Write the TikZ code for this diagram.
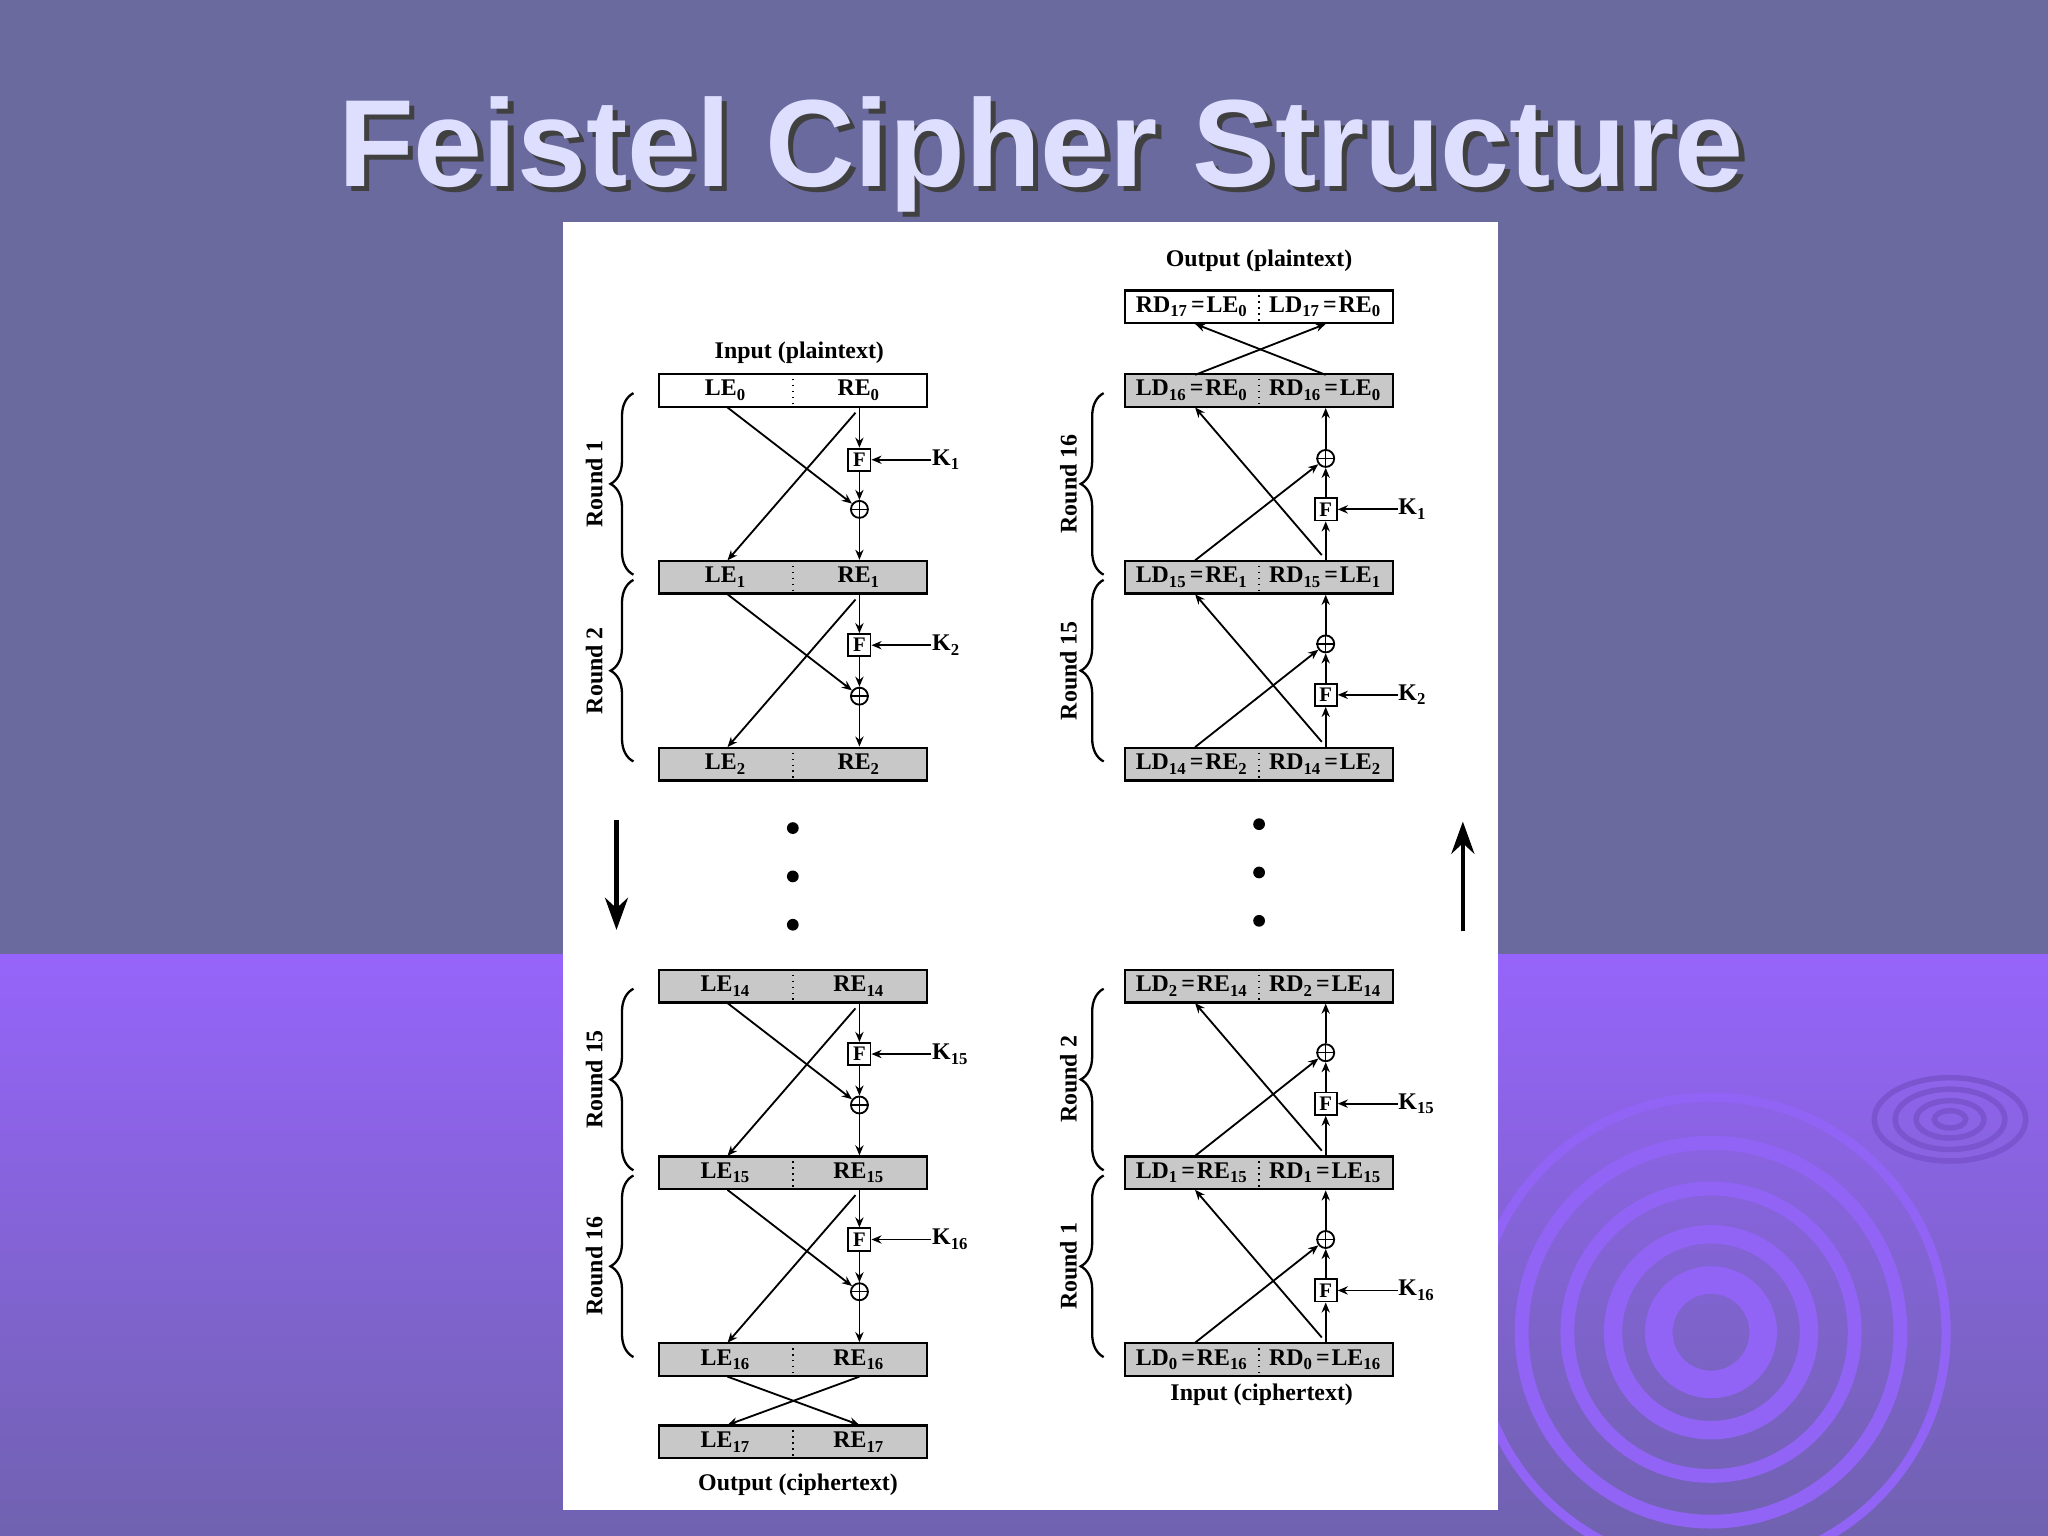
\documentclass[tikz,border=0pt]{standalone}
\usepackage{fontspec}
\setmainfont{Liberation Serif}
\newfontfamily\titlefont{Liberation Sans}
\usetikzlibrary{decorations.pathreplacing,arrows.meta}
\definecolor{topbg}{RGB}{106,106,158}
\definecolor{botA}{RGB}{150,100,250}
\definecolor{botB}{RGB}{112,98,176}
\definecolor{ring}{RGB}{145,100,245}
\definecolor{ttl}{RGB}{222,222,255}
\definecolor{gbox}{RGB}{200,200,200}
\tikzset{
 bx/.style={draw,line width=0.5pt,minimum width=2.05cm,minimum height=0.25cm,inner sep=0pt},
 txt/.style={font=\fontsize{5.2}{6}\selectfont\bfseries,inner sep=0pt},
 lbl/.style={font=\fontsize{5.2}{6}\selectfont\bfseries,inner sep=0pt},
 fb/.style={draw,fill=white,minimum size=0.17cm,inner sep=0pt,line width=0.4pt,font=\fontsize{4.5}{5}\selectfont\bfseries},
 xr/.style={draw,fill=white,circle,minimum size=0.13cm,inner sep=0pt,line width=0.4pt},
 arr/.style={-{Stealth[length=2.2pt,width=1.8pt]},line width=0.4pt},
 brc/.style={decorate,decoration={brace,amplitude=5pt},line width=0.5pt},
}
\newcommand\eq{\kern0.4pt=\kern0.4pt}
\newcommand\mybox[6]{%
 \node[bx,fill=#4] (#1) at (#2,#3) {};
 \draw[densely dotted,line width=0.3pt] (#1.north) -- (#1.south);
 \node[txt] (#1l) at ([xshift=-0.51cm]#1.center) {#5};
 \node[txt] (#1r) at ([xshift=0.51cm]#1.center) {#6};}
\newcommand\xorplus[1]{\draw[line width=0.3pt] (#1.north)--(#1.south) (#1.west)--(#1.east);}
\newcommand\lround[9]{%
 \node[fb] (#1F) at (658,#4) {F};
 \node[xr] (#1X) at (658,#5) {}; \xorplus{#1X}
 \node[lbl,anchor=west] (#1K) at (713,#4) {#6};
 \draw[arr] (#1F |- #2.south) -- (#1F);
 \draw[arr] (#1F) -- (#1X);
 \draw[arr] (#1X) -- (#1X |- #3.north);
 \coordinate (#1a) at (557,#8+13); \coordinate (#1b) at (655,#8+17); \coordinate (#1c) at (557,#9-13);
 \draw[arr] (#1a) -- (#1X);
 \draw[arr] (#1b) -- (#1c);
 \draw[arr] (#1K.west) -- (#1F.east);
 \coordinate (#1u) at (485,#8+2); \coordinate (#1d) at (485,#9-2);
 \draw[brc] (#1d) -- (#1u);
 \node[lbl,rotate=90] (#1R) at (455,{(#8+#9)/2}) {#7};}
\newcommand\rround[9]{%
 \node[fb] (#1F) at (1015,#4) {F};
 \node[xr] (#1X) at (1015,#5) {}; \xorplus{#1X}
 \node[lbl,anchor=west] (#1K) at (1070,#4) {#6};
 \draw[arr] (#1F |- #3.north) -- (#1F);
 \draw[arr] (#1F) -- (#1X);
 \draw[arr] (#1X) -- (#1X |- #2.south);
 \coordinate (#1a) at (915,#9-13); \coordinate (#1b) at (1012,#9-17); \coordinate (#1c) at (915,#8+13);
 \draw[arr] (#1a) -- (#1X);
 \draw[arr] (#1b) -- (#1c);
 \draw[arr] (#1K.west) -- (#1F.east);
 \coordinate (#1u) at (845,#8+2); \coordinate (#1d) at (845,#9-2);
 \draw[brc] (#1d) -- (#1u);
 \node[lbl,rotate=90] (#1R) at (818,{(#8+#9)/2}) {#7};}
\begin{document}
\begin{tikzpicture}[x=0.01cm,y=-0.01cm]
\useasboundingbox (0,0) rectangle (1568,1176);
\fill[topbg] (0,0) rectangle (1568,731);
\shade[top color=botA,bottom color=botB] (0,731) rectangle (1568,1176);
\begin{scope}
\clip (0,731) rectangle (1568,1176);
\foreach \r/\w in {40/6,75/4,110/3,145/3,180/2}{\draw[ring,line width=\w] (1310,1020) circle (\r);}
\foreach \r in {12,26,42,58}{\draw[ring!85!black,line width=1.2] (1493,857) circle ({\r} and {\r*0.55});}
\end{scope}
\node[font=\titlefont\fontsize{27}{27}\selectfont\bfseries,text=black!75] (tsh) at (801,122) {Feistel Cipher Structure};
\node[font=\titlefont\fontsize{27}{27}\selectfont\bfseries,text=ttl] (title) at (797,118) {Feistel Cipher Structure};
\fill[white] (431,170) rectangle (1147,1156);
\node[lbl] (inp) at (612,270) {Input (plaintext)};
\mybox{L0}{607}{299}{white}{LE\textsubscript{0}}{RE\textsubscript{0}}
\mybox{L1}{607}{442}{gbox}{LE\textsubscript{1}}{RE\textsubscript{1}}
\mybox{L2}{607}{585}{gbox}{LE\textsubscript{2}}{RE\textsubscript{2}}
\mybox{L14}{607}{755}{gbox}{LE\textsubscript{14}}{RE\textsubscript{14}}
\mybox{L15}{607}{898}{gbox}{LE\textsubscript{15}}{RE\textsubscript{15}}
\mybox{L16}{607}{1041}{gbox}{LE\textsubscript{16}}{RE\textsubscript{16}}
\mybox{L17}{607}{1104}{gbox}{LE\textsubscript{17}}{RE\textsubscript{17}}
\node[lbl] (outc) at (611,1137) {Output (ciphertext)};
\lround{la}{L0}{L1}{352}{390}{K\textsubscript{1}}{Round 1}{299}{442}
\lround{lb}{L1}{L2}{494}{533}{K\textsubscript{2}}{Round 2}{442}{585}
\lround{lc}{L14}{L15}{807}{846}{K\textsubscript{15}}{Round 15}{755}{898}
\lround{ld}{L15}{L16}{949}{989}{K\textsubscript{16}}{Round 16}{898}{1041}
\coordinate (s1) at (557,1054); \coordinate (s2) at (658,1054);
\coordinate (s3) at (557,1091); \coordinate (s4) at (658,1091);
\draw[arr] (s1) -- (s4); \draw[arr] (s2) -- (s3);
\node[lbl] (outp) at (964,200) {Output (plaintext)};
\mybox{R17}{964}{235}{white}{RD\textsubscript{17}\eq LE\textsubscript{0}}{LD\textsubscript{17}\eq RE\textsubscript{0}}
\mybox{R16}{964}{299}{gbox}{LD\textsubscript{16}\eq RE\textsubscript{0}}{RD\textsubscript{16}\eq LE\textsubscript{0}}
\mybox{R15}{964}{442}{gbox}{LD\textsubscript{15}\eq RE\textsubscript{1}}{RD\textsubscript{15}\eq LE\textsubscript{1}}
\mybox{R14}{964}{585}{gbox}{LD\textsubscript{14}\eq RE\textsubscript{2}}{RD\textsubscript{14}\eq LE\textsubscript{2}}
\mybox{R2}{964}{755}{gbox}{LD\textsubscript{2}\eq RE\textsubscript{14}}{RD\textsubscript{2}\eq LE\textsubscript{14}}
\mybox{R1}{964}{898}{gbox}{LD\textsubscript{1}\eq RE\textsubscript{15}}{RD\textsubscript{1}\eq LE\textsubscript{15}}
\mybox{R0}{964}{1041}{gbox}{LD\textsubscript{0}\eq RE\textsubscript{16}}{RD\textsubscript{0}\eq LE\textsubscript{16}}
\node[lbl] (inc) at (966,1068) {Input (ciphertext)};
\rround{ra}{R16}{R15}{390}{351}{K\textsubscript{1}}{Round 16}{299}{442}
\rround{rb}{R15}{R14}{532}{493}{K\textsubscript{2}}{Round 15}{442}{585}
\rround{rc}{R2}{R1}{845}{806}{K\textsubscript{15}}{Round 2}{755}{898}
\rround{rd}{R1}{R0}{988}{949}{K\textsubscript{16}}{Round 1}{898}{1041}
\coordinate (t1) at (915,287); \coordinate (t2) at (1015,287);
\coordinate (t3) at (915,248); \coordinate (t4) at (1015,248);
\draw[arr] (t1) -- (t4); \draw[arr] (t2) -- (t3);
\foreach \y [count=\i] in {634,671,708}{\fill (607,\y) circle (4.5) coordinate (dl\i);}
\foreach \y [count=\i] in {631,668,705}{\fill (964,\y) circle (4.5) coordinate (dr\i);}
\coordinate (a1) at (472,628); \coordinate (a2) at (472,712);
\coordinate (a3) at (1120,713); \coordinate (a4) at (1120,629);
\draw[-{Stealth[length=7pt,width=5pt]},line width=1pt] (a1) -- (a2);
\draw[-{Stealth[length=7pt,width=5pt]},line width=1pt] (a3) -- (a4);
\end{tikzpicture}
\end{document}
